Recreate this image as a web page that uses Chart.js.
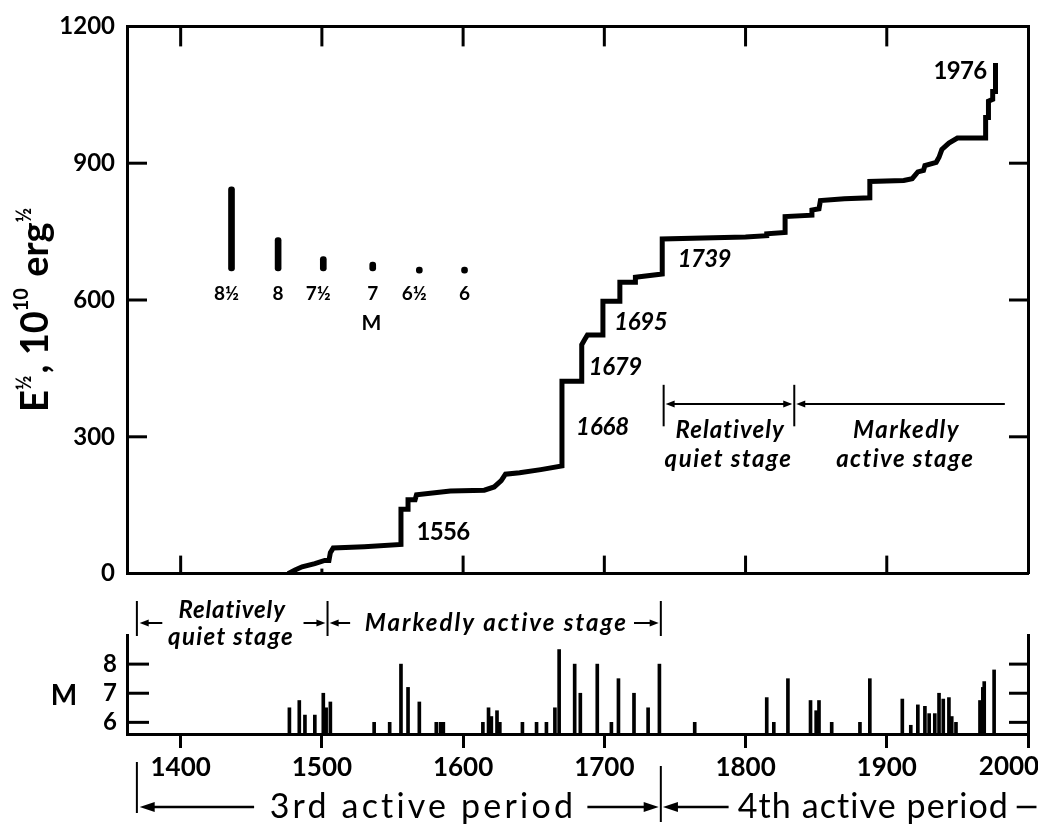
<!DOCTYPE html>
<html>
<head>
<meta charset="utf-8">
<script src="https://cdn.jsdelivr.net/npm/chart.js@4.4.1/dist/chart.umd.min.js"></script>
<style>
  html, body { margin: 0; padding: 0; background: #fff; width: 1038px; height: 824px; overflow: hidden; }
  .panel { position: absolute; left: 0; }
  #topWrap { top: 0; }
  #bottomWrap { top: 600px; }
</style>
</head>
<body>
<div class="panel" id="topWrap"><canvas id="topChart" width="1080" height="600"></canvas></div>
<div class="panel" id="bottomWrap"><canvas id="bottomChart" width="1080" height="224"></canvas></div>
<script>
// cumulative E^1/2 curve (year, value)
const curveYears = [1476, 1481, 1486, 1495, 1502, 1505, 1506, 1508, 1530, 1556, 1556, 1561, 1561, 1566, 1567, 1591, 1615, 1622, 1627, 1630,
  1640, 1655, 1670, 1670, 1684, 1684, 1686, 1688, 1699, 1699, 1711, 1711, 1722, 1722, 1741, 1741, 1800, 1815, 1815, 1828,
  1828, 1847, 1847, 1852, 1853, 1870, 1888, 1888, 1912, 1918, 1922, 1926, 1927, 1935, 1937, 1939, 1944, 1950, 1970, 1970,
  1972, 1972, 1975, 1975, 1977, 1977];
const curveValues = [0, 8, 15, 22, 29, 29, 46, 56, 59, 64, 141, 141, 162, 162, 173, 181, 183, 190, 204, 218,
  221, 228, 236, 422, 422, 502, 513, 523, 523, 597, 597, 639, 639, 650, 657, 734, 738, 741, 745, 748,
  783, 786, 797, 800, 818, 822, 824, 860, 862, 866, 881, 884, 895, 902, 913, 930, 944, 955, 955, 1000,
  1000, 1036, 1040, 1057, 1057, 1120];

// individual earthquakes (lower panel)
const quakeYears = [1477, 1484, 1488, 1495, 1501, 1503, 1506, 1537, 1548, 1556, 1561, 1569, 1581, 1584, 1586, 1614, 1618, 1620, 1624, 1626,
  1642, 1652, 1659, 1665, 1668, 1679, 1683, 1695, 1705, 1710, 1721, 1731, 1739, 1764, 1815, 1820, 1830, 1846, 1850, 1852,
  1861, 1881, 1888, 1911, 1917, 1922, 1927, 1930, 1934, 1937, 1940, 1944, 1946, 1949, 1966, 1968, 1969, 1976];
const quakeMags = [6.5, 6.75, 6.25, 6.25, 7.0, 6.5, 6.7, 6.0, 6.0, 8.0, 7.2, 6.7, 6.0, 6.0, 6.0, 6.0, 6.5, 6.2, 6.4, 6.0,
  6.0, 6.0, 6.0, 6.5, 8.5, 8.0, 7.0, 8.0, 6.0, 7.5, 7.0, 6.5, 8.0, 6.0, 6.85, 6.0, 7.5, 6.75, 6.4, 6.75,
  6.0, 6.0, 7.5, 6.8, 5.9, 6.6, 6.55, 6.3, 6.3, 7.0, 6.8, 6.85, 6.2, 6.0, 6.75, 7.2, 7.4, 7.8];

// magnitude key inside the upper panel
const keyLabels = ['8½', '8', '7½', '7', '6½', '6'];
const keyYears = [1436, 1469, 1501, 1536, 1569, 1601];
const keyLow = [664, 664, 664, 664, 659, 659];
const keyHigh = [848, 737, 695, 683, 672, 672];

const yearTicks = [1400, 1500, 1600, 1700, 1800, 1900, 2000];
const energyTicks = [0, 300, 600, 900, 1200];
const magTicks = [6, 7, 8];

// year labels on the curve: [text, year, value, italic]
const curveNotes = [
  ['1556', 1567, 74, false],
  ['1668', 1680, 305, true],
  ['1679', 1689, 436, true],
  ['1695', 1707, 535, true],
  ['1739', 1752, 672, true],
  ['1976', 1933, 1084, false]
];

const FONT = 'Lato';
const black = '#000';

function keepTicks(list) {
  return s => { s.ticks = list.map(v => ({ value: v })); };
}

function line(ctx, x1, y1, x2, y2) {
  ctx.beginPath();
  ctx.moveTo(x1, y1);
  ctx.lineTo(x2, y2);
  ctx.stroke();
}

function arrow(ctx, fromX, toX, y, head, half) {
  const dir = Math.sign(toX - fromX);
  line(ctx, fromX, y, toX - dir * head * 0.5, y);
  ctx.beginPath();
  ctx.moveTo(toX, y);
  ctx.lineTo(toX - dir * head, y - half);
  ctx.lineTo(toX - dir * head, y + half);
  ctx.closePath();
  ctx.fill();
}

// draw text so it spans a given width (left aligned)
function fitText(ctx, text, x, y, width) {
  ctx.letterSpacing = '0px';
  ctx.textAlign = 'left';
  const w = ctx.measureText(text).width;
  if (width) ctx.letterSpacing = ((width - w) / text.length).toFixed(2) + 'px';
  ctx.fillText(text, x, y);
  ctx.letterSpacing = '0px';
}

function centerFit(ctx, text, cx, y, width) {
  fitText(ctx, text, cx - width / 2, y, width);
}

const border = { display: true, width: 3, color: black };
const noGrid = { display: false, drawTicks: false };

const topDecor = {
  id: 'topDecor',
  afterDraw(chart) {
    const { ctx, chartArea: a, scales: { x, y } } = chart;
    ctx.save();
    ctx.strokeStyle = black;
    ctx.fillStyle = black;
    ctx.lineWidth = 3;

    // inward tick marks
    yearTicks.slice(0, -1).forEach(v => {
      const px = x.getPixelForValue(v);
      line(ctx, px, a.top, px, a.top + 20);
      line(ctx, px, a.bottom, px, a.bottom - (v === 1500 ? 5 : 18));
    });
    energyTicks.slice(1, -1).forEach(v => {
      const py = y.getPixelForValue(v);
      line(ctx, a.left, py, a.left + 20, py);
      line(ctx, a.right, py, a.right - 19, py);
    });

    // axis title  E^1/2, 10^10 erg^1/2
    ctx.save();
    ctx.translate(48, 412);
    ctx.rotate(-Math.PI / 2);
    ctx.textAlign = 'left';
    ctx.textBaseline = 'alphabetic';
    let cx = 0;
    const big = 'bold 38px ' + FONT, small = 'bold 20px ' + FONT;
    [['E', big, 0], ['½', small, -17], [', 10', big, 0], ['10', small, -20], [' erg', big, 0], ['½', small, -17]].forEach(([t, f, dy]) => {
      ctx.font = f;
      ctx.fillText(t, cx, dy);
      cx += ctx.measureText(t).width + (dy ? 2 : 0);
    });
    ctx.restore();

    // year notes on the curve
    ctx.textBaseline = 'alphabetic';
    curveNotes.forEach(([t, yr, val, it]) => {
      ctx.font = (it ? 'italic ' : '') + 'bold 24px ' + FONT;
      fitText(ctx, t, x.getPixelForValue(yr), y.getPixelForValue(val), 53);
    });

    // magnitude key labels
    ctx.font = 'bold 19px ' + FONT;
    ctx.textAlign = 'center';
    keyLabels.forEach((t, i) => {
      ctx.fillText(t, x.getPixelForValue(keyYears[i]) - (t.length > 1 ? 5 : 0), y.getPixelForValue(600));
    });
    ctx.font = 'bold 21px ' + FONT;
    ctx.fillText('M', x.getPixelForValue(1535), y.getPixelForValue(535));

    // stage bracket after 1739
    ctx.lineWidth = 2;
    const m1 = x.getPixelForValue(1742), m2 = x.getPixelForValue(1834.5), endX = x.getPixelForValue(1983.6);
    const yl = y.getPixelForValue(372), yTop = y.getPixelForValue(414), yBot = y.getPixelForValue(323);
    line(ctx, m1, yTop, m1, yBot);
    line(ctx, m2, yTop, m2, yBot);
    arrow(ctx, m2 - 4, m1 + 2, yl, 9, 3.5);
    arrow(ctx, m1 + 10, m2 - 2, yl, 9, 3.5);
    arrow(ctx, endX, m2 + 2, yl, 9, 3.5);
    ctx.font = 'italic bold 24px ' + FONT;
    ctx.textBaseline = 'alphabetic';
    centerFit(ctx, 'Relatively', x.getPixelForValue(1789), y.getPixelForValue(297), 109);
    centerFit(ctx, 'quiet stage', x.getPixelForValue(1788), y.getPixelForValue(233), 128);
    centerFit(ctx, 'Markedly', x.getPixelForValue(1914), y.getPixelForValue(297), 107);
    centerFit(ctx, 'active stage', x.getPixelForValue(1913), y.getPixelForValue(233), 138);
    ctx.restore();
  }
};

const bottomDecor = {
  id: 'bottomDecor',
  afterDraw(chart) {
    const { ctx, chartArea: a, scales: { x, y } } = chart;
    const X = v => x.getPixelForValue(v);
    ctx.save();
    ctx.strokeStyle = black;
    ctx.fillStyle = black;
    ctx.lineWidth = 3;
    magTicks.forEach(v => {
      const py = y.getPixelForValue(v);
      line(ctx, a.left, py, a.left + 22, py);
      line(ctx, a.right, py, a.right - 19, py);
    });

    // last year label sits against the page edge
    ctx.font = 'bold 26px ' + FONT;
    ctx.textAlign = 'center';
    ctx.textBaseline = 'middle';
    ctx.fillText('2000', X(2000) - 19, 167);

    // axis label M
    ctx.font = 'bold 28px ' + FONT;
    ctx.textBaseline = 'alphabetic';
    ctx.fillText('M', 64, 105);

    // stages above the panel
    ctx.lineWidth = 2;
    [1369, 1504, 1740].forEach(v => line(ctx, X(v), 1, X(v), 36));
    arrow(ctx, X(1387), X(1371), 23, 9, 3.5);
    arrow(ctx, X(1487), X(1502.5), 23, 9, 3.5);
    arrow(ctx, X(1520), X(1505.5), 23, 9, 3.5);
    arrow(ctx, X(1721), X(1738.5), 23, 9, 3.5);
    ctx.font = 'italic bold 24px ' + FONT;
    centerFit(ctx, 'Relatively', X(1436.4), 18, 107);
    centerFit(ctx, 'quiet stage', X(1435.7), 45, 126);
    fitText(ctx, 'Markedly active stage', X(1530.3), 31, 263);

    // active periods below the panel
    line(ctx, X(1369), 162, X(1369), 213);
    line(ctx, X(1740), 166, X(1740), 222);
    ctx.lineWidth = 2.5;
    arrow(ctx, X(1452), X(1371), 207, 15, 5);
    arrow(ctx, X(1688), X(1738.5), 207, 15, 5);
    arrow(ctx, X(1788), X(1741.5), 207, 15, 5);
    line(ctx, X(1992), 207, X(2006), 207);
    ctx.font = '34px ' + FONT;
    fitText(ctx, '3rd active period', X(1463), 218, 307);
    fitText(ctx, '4th active period', X(1794.4), 218, 272);
    ctx.restore();
  }
};

new Chart(document.getElementById('topChart'), {
  type: 'line',
  data: {
    datasets: [
      {
        type: 'line',
        data: curveYears.map((yr, i) => ({ x: yr, y: curveValues[i] })),
        borderColor: black,
        borderWidth: 5,
        borderJoinStyle: 'miter',
        borderCapStyle: 'butt',
        pointRadius: 0,
        tension: 0,
        fill: false
      },
      {
        type: 'bar',
        data: keyYears.map((yr, i) => ({ x: yr, y: [keyLow[i], keyHigh[i]] })),
        backgroundColor: black,
        barThickness: 6,
        borderRadius: 3,
        borderSkipped: false
      }
    ]
  },
  options: {
    responsive: false,
    animation: false,
    layout: { padding: { top: 22, right: 52, bottom: 0, left: 0 } },
    plugins: { legend: { display: false }, tooltip: { enabled: false } },
    scales: {
      x: {
        type: 'linear', position: 'bottom', min: 1362, max: 2000, offset: false,
        afterBuildTicks: keepTicks(yearTicks),
        ticks: { display: false },
        grid: { display: false, drawTicks: false, offset: false },
        border: border,
        afterFit: s => { s.height = 8; }
      },
      xTop: {
        type: 'linear', position: 'top', min: 1362, max: 2000, offset: false,
        ticks: { display: false },
        grid: noGrid,
        border: border,
        afterFit: s => { s.height = 0; }
      },
      y: {
        type: 'linear', position: 'left', min: 0, max: 1200,
        afterBuildTicks: keepTicks(energyTicks),
        ticks: { color: black, padding: 12, font: { family: FONT, size: 24, weight: 'bold' }, callback: v => String(v) },
        grid: noGrid,
        border: border,
        afterFit: s => { s.width = 127; }
      },
      yRight: {
        type: 'linear', position: 'right', min: 0, max: 1200,
        ticks: { display: false },
        grid: noGrid,
        border: border,
        afterFit: s => { s.width = 0; }
      }
    }
  },
  plugins: [topDecor]
});

new Chart(document.getElementById('bottomChart'), {
  type: 'bar',
  data: {
    datasets: [{
      data: quakeYears.map((yr, i) => ({ x: yr, y: quakeMags[i] })),
      backgroundColor: black,
      barThickness: 3,
      base: 5.6
    }]
  },
  options: {
    responsive: false,
    animation: false,
    layout: { padding: { top: 35, right: 52, bottom: 0, left: 0 } },
    plugins: { legend: { display: false }, tooltip: { enabled: false } },
    scales: {
      x: {
        type: 'linear', position: 'bottom', min: 1362, max: 2000, offset: false,
        afterBuildTicks: keepTicks(yearTicks),
        ticks: { color: black, padding: 4, maxRotation: 0, autoSkip: false, font: { family: FONT, size: 26, weight: 'bold' }, callback: v => (v === 2000 ? '' : String(v)) },
        grid: { display: true, offset: false, drawOnChartArea: false, drawTicks: true, tickLength: 14, lineWidth: 3, color: black },
        border: border,
        afterFit: s => { s.height = 90; }
      },
      y: {
        type: 'linear', position: 'left', min: 5.6, max: 9,
        afterBuildTicks: keepTicks(magTicks),
        ticks: { color: black, padding: 10, font: { family: FONT, size: 24, weight: 'bold' }, callback: v => String(v) },
        grid: noGrid,
        border: border,
        afterFit: s => { s.width = 127; }
      },
      yRight: {
        type: 'linear', position: 'right', min: 5.6, max: 9,
        ticks: { display: false },
        grid: noGrid,
        border: border,
        afterFit: s => { s.width = 0; }
      }
    }
  },
  plugins: [bottomDecor]
});
</script>
</body>
</html>
